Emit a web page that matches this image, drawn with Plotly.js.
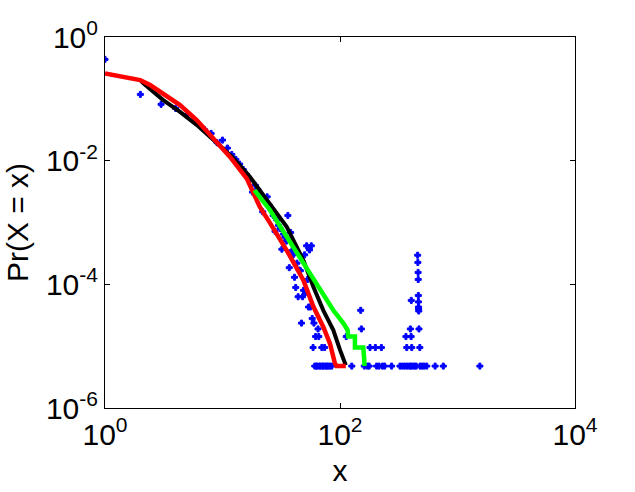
<!DOCTYPE html>
<html>
<head>
<meta charset="utf-8">
<script src="https://cdn.plot.ly/plotly-3.0.1.min.js"></script>
<style>html,body{margin:0;padding:0;background:#fff;}#chart{width:635px;height:492px;}</style>
</head>
<body>
<div id="chart"></div>
<script>
// Empirical distribution (blue points)
const pdfX = [1,2,3,4,5,6,7,8,9,10,11,12,13,14,15,16,17,18,19,20,21,22,23,24,25,26,27,28,29,30,
  31,32,33,34,35,36,37,38,39,40,41,42,43,44,45,46,47,48,49,50,51,52,53,54,55,56,57,58,59,60,
  61,62,63,64,65,66,67,68,70,71,72,74,75,77,79,82,85,
  113,126,150,152,161,171,177,180,200,205,215,225,230,240,275,324,340,355,364,370,372,390,397,400,403,404,408,415,430,445,
  458,460,462,463,464,465,466,467,468,470,478,480,500,520,547,645,757,1550];
const pdfY = [0.435,0.118,0.0815,0.070,0.056,0.042,0.032,0.0276,0.0195,0.0215,0.016,0.0126,0.0105,0.0088,0.0072,0.006,0.0048,0.0031,0.0040,0.0034,
  0.0028,0.00149,0.0022,0.0026,0.0019,0.0016,0.0013,0.00072,0.0011,0.0009,
  0.0008,0.00037,0.00065,0.00058,0.0005,0.0013,0.000186,0.00069,0.00035,0.0003,0.00013,0.000089,0.00022,0.000063,0.00017,0.000166,0.0000236,0.000063,0.00008,0.0003,
  0.000074,0.00042,0.00012,0.000043,0.00036,0.000043,0.00042,0.000028,0.0000095,0.0000236,
  0.00000476,0.0000143,0.00000476,0.00000476,0.000019,0.0000143,0.00000476,0.00000476,0.0000095,0.00000476,0.00000476,0.0000095,0.00000476,0.00000476,0.00000476,0.00000476,0.00000476,
  0.0000143,0.00000476,0.000038,0.000019,0.00000476,0.00000476,0.00000476,0.0000095,0.0000095,0.00000476,0.00000476,0.0000095,0.00000476,0.00000476,0.00000476,0.00000476,0.00000476,0.00000476,0.0000143,0.0000095,0.00000476,0.00000476,0.000019,0.00000476,0.0000143,0.000055,0.0000095,0.00000476,0.00000476,0.00000476,
  0.000296,0.000226,0.000156,0.00012,0.000066,0.000052,0.000043,0.00004,0.000037,0.000019,0.0000095,0.00000476,0.00000476,0.00000476,0.00000476,0.00000476,0.00000476,0.00000476];

// Black fitted curve
const blackX = [2,2.12,3.13,4.35,6.03,8.36,12.4,17.1,23.8,35.2,48.8,59.3,72.1,87.7,100,112];
const blackY = [0.201,0.178,0.0955,0.0617,0.038,0.0215,0.011,0.0055,0.00229,0.000851,0.000245,0.0000912,0.000038,0.0000182,0.0000087,0.0000049];

// Red fitted curve
const redX = [1,1.63,1.99,2.42,3.13,4.35,6.03,8.36,11.6,16.1,18.3,20.8,25.4,35.2,48.8,59.3,72.1,82.2,90.6,93.3,112];
const redY = [0.258,0.215,0.201,0.167,0.123,0.0794,0.0454,0.0229,0.0115,0.00513,0.00295,0.00178,0.000977,0.000355,0.000117,0.0000437,0.0000204,0.000011,0.00000525,0.00000478,0.00000478];

// Green fitted curve
const greenX = [18.7,25.4,35.2,48.8,67.6,87.7,107,116,117.5,134,134,158,162];
const greenY = [0.00334,0.00158,0.000589,0.000219,0.000081,0.000038,0.0000234,0.0000182,0.0000143,0.0000143,0.0000095,0.0000095,0.00000478];

const xTickVals = [1,100,10000];
const xTickText = ['10<sup>0</sup>','10<sup>2</sup>','10<sup>4</sup>'];
const yTickVals = [1e-6,1e-4,1e-2,1];
const yTickText = ['10<sup>-6</sup>','10<sup>-4</sup>','10<sup>-2</sup>','10<sup>0</sup>'];

const traces = [
  {x: pdfX, y: pdfY, mode: 'markers', type: 'scatter',
   marker: {symbol: 'cross', size: 5, color: '#0000ff', line: {width: 1, color: '#0000ff'}}},
  {x: blackX, y: blackY, mode: 'lines', type: 'scatter', line: {color: '#000000', width: 4}},
  {x: redX, y: redY, mode: 'lines', type: 'scatter', line: {color: '#ff0000', width: 4.5}},
  {x: greenX, y: greenY, mode: 'lines', type: 'scatter', line: {color: '#00ff00', width: 4.5}}
];

const axisCommon = {
  type: 'log', showgrid: false, zeroline: false, showline: true, mirror: 'ticks',
  linecolor: '#000', linewidth: 1, ticks: 'inside', ticklen: 5, tickwidth: 1, tickcolor: '#000',
  tickmode: 'array', tickfont: {size: 30, color: '#000'}
};

const layout = {
  width: 635, height: 492,
  margin: {l: 105, r: 60, t: 37, b: 84},
  paper_bgcolor: '#fff', plot_bgcolor: '#fff',
  font: {family: '"Liberation Sans", Arial, Helvetica, sans-serif', color: '#000'},
  showlegend: false,
  xaxis: Object.assign({}, axisCommon, {
    range: [0, 4], tickvals: xTickVals, ticktext: xTickText,
    title: {text: 'x', font: {size: 30}, standoff: 9}
  }),
  yaxis: Object.assign({}, axisCommon, {
    range: [-6, 0], tickvals: yTickVals, ticktext: yTickText,
    title: {text: 'Pr(X = x)', font: {size: 30}, standoff: 8}
  })
};

Plotly.newPlot('chart', traces, layout, {staticPlot: true, displayModeBar: false});
</script>
</body>
</html>
